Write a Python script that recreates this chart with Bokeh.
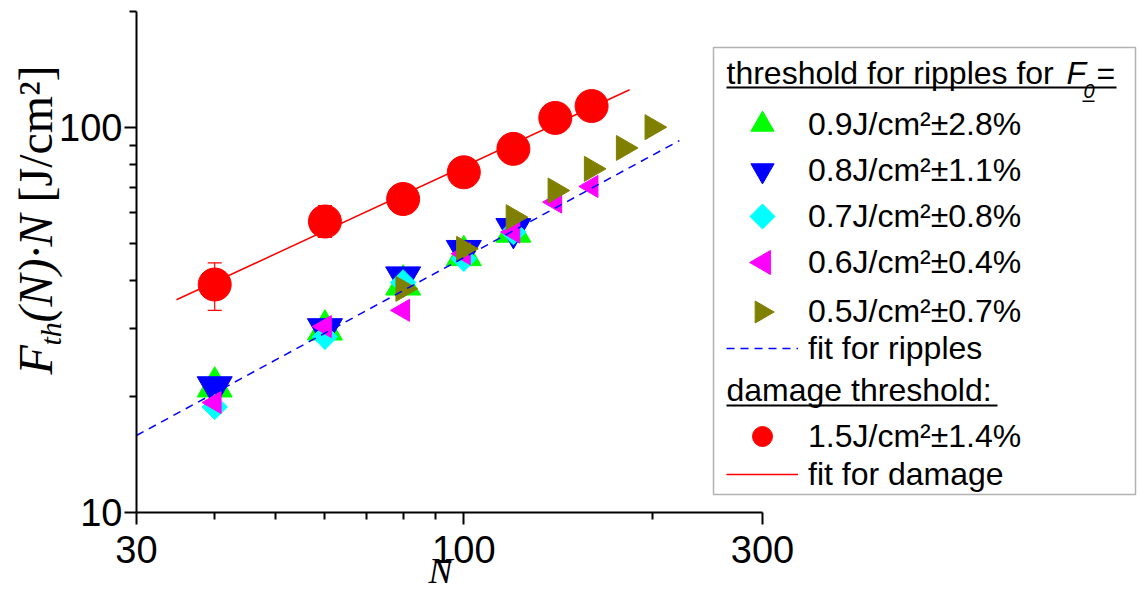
import math
from bokeh.plotting import figure
from bokeh.models import (FixedTicker, Range1d, Legend, LegendItem, Label,
                          BoxAnnotation, PolyAnnotation, Whisker, TeeHead,
                          ColumnDataSource, PrintfTickFormatter)
from bokeh.embed import file_html
from bokeh.resources import INLINE

# ---------------- data ----------------
N_DAMAGE = [40, 60, 80, 100, 120, 140, 160]
F_DAMAGE = [39.1, 57.0, 65.2, 76.5, 88.0, 105.9, 113.7]
F_DAMAGE_LO = [33.5, 51.8, 63.5, 74.5, 86.0, 104.0, 111.5]
F_DAMAGE_HI = [44.5, 62.7, 67.0, 78.5, 90.0, 108.0, 116.0]

N_09 = [40, 60, 80, 100, 120]
F_09 = [21.2, 29.8, 39.0, 46.5, 53.5]
N_08 = [40, 60, 80, 100, 120]
F_08 = [21.2, 30.0, 40.9, 47.9, 54.6]
N_07 = [40, 60, 80, 100, 120]
F_07 = [18.8, 28.6, 39.6, 45.6, 53.5]
N_06 = [40, 60, 80, 100, 120, 140, 160]
F_06 = [19.3, 30.4, 33.5, 47.0, 53.5, 64.0, 70.3]
N_05 = [80, 100, 120, 140, 160, 180, 200]
F_05 = [38.1, 48.4, 58.5, 68.6, 78.1, 88.5, 100.2]

FIT_RIPPLES_N = [30, 221]
FIT_RIPPLES_F = [15.85, 92.5]
FIT_DAMAGE_N = [34.75, 184]
FIT_DAMAGE_F = [35.7, 125.3]

X_TICKS = [30, 100, 300]
X_MINOR = [40, 50, 60, 70, 80, 90, 200]
Y_TICKS = [10, 100]
Y_MINOR = [20, 30, 40, 50, 60, 70, 80, 90, 200]
X_BOUNDS = (30, 300)
Y_BOUNDS = (10, 200)

LEGEND_LABELS = ["0.9J/cm\u00b2\u00b12.8%", "0.8J/cm\u00b2\u00b11.1%",
                 "0.7J/cm\u00b2\u00b10.8%", "0.6J/cm\u00b2\u00b10.4%",
                 "0.5J/cm\u00b2\u00b10.7%", "fit for ripples",
                 "1.5J/cm\u00b2\u00b11.4%", "fit for damage"]

# ---------------- layout (pixels) ----------------
W, H = 1138, 591
AX_X0_PX, AX_DEC_X = 136, 626     # x=30 at px 136, one decade = 626 px
AX_Y0_PX, AX_DEC_Y = 512, 385     # y=10 at py 512, one decade = 385 px

x_start = 10 ** (math.log10(X_BOUNDS[0]) - AX_X0_PX / AX_DEC_X)
x_end = 10 ** (math.log10(X_BOUNDS[0]) + (W - AX_X0_PX) / AX_DEC_X)
y_start = 10 ** (math.log10(Y_BOUNDS[0]) - (H - AX_Y0_PX) / AX_DEC_Y)
y_end = 10 ** (math.log10(Y_BOUNDS[0]) + AX_Y0_PX / AX_DEC_Y)


def sx(px):
    return px


def sy(py):
    return H - py


SANS = "Liberation Sans"
SERIF = "Liberation Serif"

p = figure(width=W, height=H, x_axis_type="log", y_axis_type="log",
           x_range=Range1d(x_start, x_end), y_range=Range1d(y_start, y_end),
           output_backend="svg", toolbar_location=None,
           min_border_left=0, min_border_right=0,
           min_border_top=0, min_border_bottom=0)
p.xgrid.visible = False
p.ygrid.visible = False
p.outline_line_color = None
p.background_fill_color = "white"
p.border_fill_color = "white"

p.xaxis.ticker = FixedTicker(ticks=X_TICKS, minor_ticks=X_MINOR)
p.yaxis.ticker = FixedTicker(ticks=Y_TICKS, minor_ticks=Y_MINOR)
p.xaxis.fixed_location = Y_BOUNDS[0]
p.yaxis.fixed_location = X_BOUNDS[0]
p.xaxis.bounds = X_BOUNDS
p.yaxis.bounds = Y_BOUNDS
for ax in (p.xaxis[0], p.yaxis[0]):
    ax.formatter = PrintfTickFormatter(format="%d")
    ax.axis_line_width = 2
    ax.axis_line_color = "black"
    ax.major_tick_line_width = 2
    ax.minor_tick_line_width = 2
    ax.major_tick_line_color = "black"
    ax.minor_tick_line_color = "black"
    ax.major_tick_out = 12
    ax.major_tick_in = 0
    ax.minor_tick_out = 7
    ax.minor_tick_in = 0
    ax.major_label_text_font = SANS
    ax.major_label_text_font_size = "38px"
    ax.major_label_text_color = "black"
p.xaxis.major_label_standoff = 11
p.yaxis.major_label_standoff = 2

# ---------------- glyphs ----------------
r_fit_d = p.line(FIT_DAMAGE_N, FIT_DAMAGE_F, line_color="#FF0000", line_width=1.5)

err_src = ColumnDataSource(dict(x=N_DAMAGE, lo=F_DAMAGE_LO, hi=F_DAMAGE_HI))
wh = Whisker(base="x", lower="lo", upper="hi", source=err_src,
             line_color="#FF0000", line_width=1.2, level="underlay",
             upper_head=TeeHead(size=14, line_color="#FF0000", line_width=1.2),
             lower_head=TeeHead(size=14, line_color="#FF0000", line_width=1.2))
p.add_layout(wh)

r_dmg = p.scatter(N_DAMAGE, F_DAMAGE, marker="circle", size=33,
                  fill_color="#FF0000", line_color="#FF0000")

r09 = p.scatter(N_09, F_09, marker="triangle", size=35,
                fill_color="#00FF00", line_color="#00FF00")
r08 = p.scatter(N_08, F_08, marker="inverted_triangle", size=35,
                fill_color="#0000FF", line_color="#0000FF")
r07 = p.scatter(N_07, F_07, marker="square", angle=math.pi / 4, size=18,
                fill_color="#00FFFF", line_color="#00FFFF")
r06 = p.scatter(N_06, F_06, marker="triangle", angle=math.pi / 2, size=22,
                fill_color="#FF00FF", line_color="#FF00FF")
r05 = p.scatter(N_05, F_05, marker="triangle", angle=-math.pi / 2, size=25,
                fill_color="#808000", line_color="#808000")

r_fit_r = p.line(FIT_RIPPLES_N, FIT_RIPPLES_F, line_color="#0000FF",
                 line_width=1.5, line_dash="8 6")

# invisible renderer for legend rows whose symbol is drawn as a screen polygon
blank = p.scatter(x=[], y=[], size=0, fill_alpha=0, line_alpha=0)

# ---------------- legend ----------------
box = BoxAnnotation(left=sx(713), right=sx(1135), top=sy(47), bottom=sy(494),
                    left_units="screen", right_units="screen",
                    top_units="screen", bottom_units="screen",
                    fill_color="white", fill_alpha=1.0,
                    line_color="black", line_width=1.5)
p.add_layout(box)

# one legend per row: (label, renderer, row centre y px, glyph height px)
rows = [(LEGEND_LABELS[0], r09, 124, 58),
        (LEGEND_LABELS[1], r08, 170, 58),
        (LEGEND_LABELS[2], blank, 216, 44),
        (LEGEND_LABELS[3], blank, 262, 44),
        (LEGEND_LABELS[4], blank, 311, 44),
        (LEGEND_LABELS[5], r_fit_r, 348, 40),
        (LEGEND_LABELS[6], r_dmg, 436, 50),
        (LEGEND_LABELS[7], r_fit_d, 474, 40)]
for text, rend, cy, gh in rows:
    lg = Legend(items=[LegendItem(label=text, renderers=[rend])],
                location=(sx(726), sy(cy + gh / 2)),
                glyph_width=72, glyph_height=gh, spacing=0, padding=0, margin=0,
                label_standoff=10, label_text_font=SANS, label_text_font_size="32px",
                label_text_color="black", label_height=20,
                border_line_alpha=0, background_fill_alpha=0)
    p.add_layout(lg, "center")


def add_poly(pts, color):
    p.add_layout(PolyAnnotation(xs=[sx(a) for a, _ in pts], ys=[sy(b) for _, b in pts],
                                xs_units="screen", ys_units="screen",
                                fill_color=color, fill_alpha=1.0,
                                line_color=color, line_alpha=1.0, line_width=1))


def diamond_pts(cx, cy, r):
    return [(cx, cy - r), (cx + r, cy), (cx, cy + r), (cx - r, cy)]


def tri_h_pts(cx, cy, s, direction):
    h = s * math.sqrt(3) / 2
    tip = cx + direction * 2 * h / 3
    base = cx - direction * h / 3
    return [(tip, cy), (base, cy - s / 2), (base, cy + s / 2)]


add_poly(diamond_pts(762, 216, 12.5), "#00FFFF")
add_poly(tri_h_pts(763, 262, 24, -1), "#FF00FF")
add_poly(tri_h_pts(761, 311.5, 22, 1), "#808000")


def add_label(text, px, py, size, font=SANS, style="normal", angle=0.0,
              align="left"):
    lab = Label(x=sx(px), y=sy(py), x_units="screen", y_units="screen",
                text=text, text_font=font, text_font_size=size,
                text_font_style=style, text_color="black", angle=angle,
                text_align=align, text_baseline="middle")
    p.add_layout(lab)


def add_bar(x0, x1, y0, y1):
    p.add_layout(BoxAnnotation(left=sx(x0), right=sx(x1), top=sy(y0), bottom=sy(y1),
                               left_units="screen", right_units="screen",
                               top_units="screen", bottom_units="screen",
                               fill_color="black", fill_alpha=1.0, line_alpha=0))


# header 1 (y given as centre of the text line)
add_label("threshold for ripples for", 726, 72, "32px")
add_label("F", 1066, 72, "32px", style="italic")
add_label("0", 1083, 90, "20px", style="italic")
add_label("=", 1096, 72, "32px")
add_bar(726, 1116, 86, 88)
add_bar(1082, 1094, 100, 101.5)
# header 2
add_label("damage threshold:", 726, 389, "32px")
add_bar(726, 997, 404, 406)

# axis titles
add_label("N", 440, 570, "36px", font=SERIF, style="italic", align="center")
add_label("F", 35, 374, "48px", font=SERIF, style="italic", angle=math.pi / 2)
add_label("th", 50, 345, "30px", font=SERIF, style="italic", angle=math.pi / 2)
add_label("(N)\u00b7N", 35, 322, "48px", font=SERIF, style="italic", angle=math.pi / 2)
add_label("[J/cm\u00b2]", 35, 202, "48px", font=SERIF, angle=math.pi / 2)

open("out.html", "w").write(file_html(p, INLINE))
